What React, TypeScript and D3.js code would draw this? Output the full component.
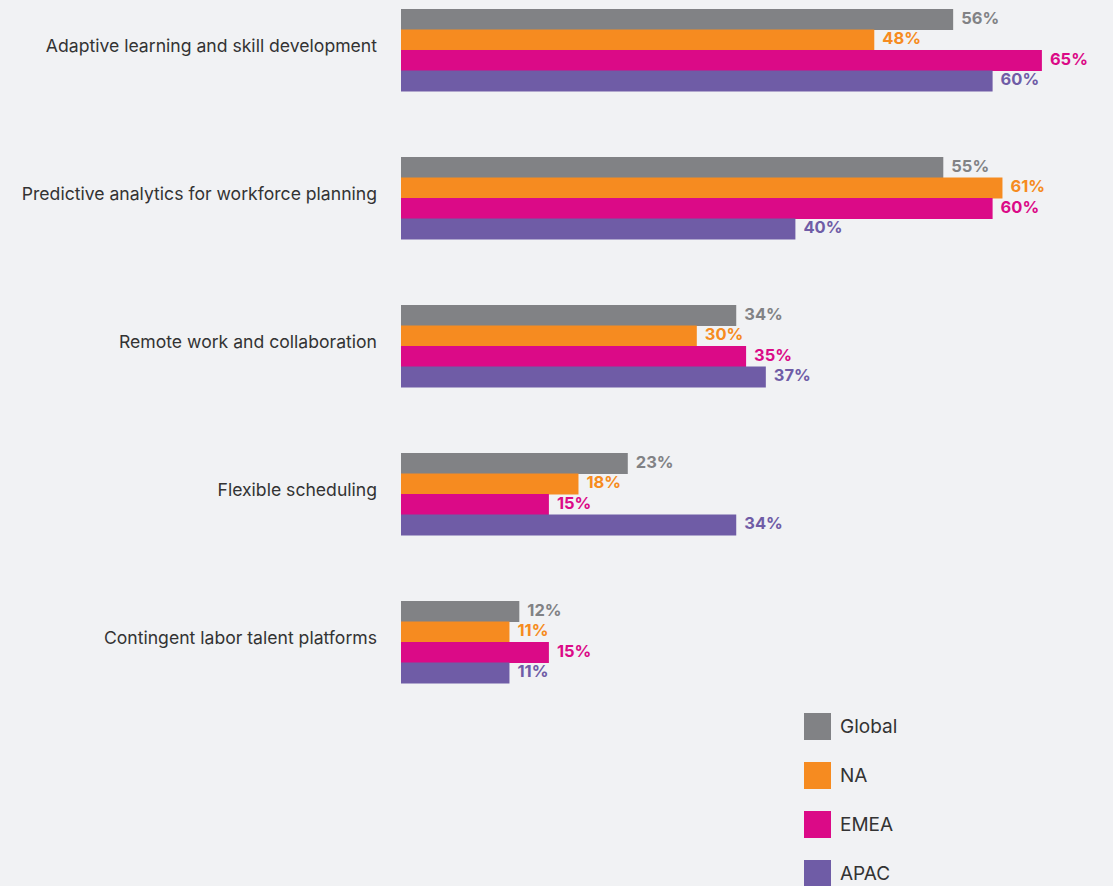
import React, { useRef, useEffect } from 'react';
import * as d3 from 'd3';

const categories = [
  'Adaptive learning and skill development',
  'Predictive analytics for workforce planning',
  'Remote work and collaboration',
  'Flexible scheduling',
  'Contingent labor talent platforms',
];
const seriesNames = ['Global', 'NA', 'EMEA', 'APAC'];
const globalValues = [56, 55, 34, 23, 12];
const naValues = [48, 61, 30, 18, 11];
const emeaValues = [65, 60, 35, 15, 15];
const apacValues = [60, 40, 37, 34, 11];
const colors = ['#818285', '#f68b20', '#db0a87', '#6f5ca6'];

const App = () => {
  const svgRef = useRef(null);

  useEffect(() => {
    const svgWidth = 1113;
    const svgHeight = 886;
    const font = 'Inter, "Open Sans", sans-serif';

    const svg = d3.select(svgRef.current)
      .attr('width', svgWidth)
      .attr('height', svgHeight);
    svg.selectAll('*').remove();

    svg.append('rect')
      .attr('width', svgWidth)
      .attr('height', svgHeight)
      .attr('fill', '#f1f2f4');

    const series = [globalValues, naValues, emeaValues, apacValues];

    const x = d3.scaleLinear().domain([0, 100]).range([401, 401 + 986]);
    // 5 groups, 148px apart, 82px tall each
    const y0 = d3.scaleBand().domain(categories).range([9, 683]).paddingInner(0.446).paddingOuter(0);
    const y1 = d3.scaleBand().domain(seriesNames).range([0, y0.bandwidth()]);

    const groups = svg.append('g')
      .selectAll('g')
      .data(categories)
      .enter()
      .append('g')
      .attr('transform', (d) => `translate(0,${y0(d)})`);

    groups.each(function (cat, ci) {
      const g = d3.select(this);
      seriesNames.forEach((s, si) => {
        const v = series[si][ci];
        g.append('rect')
          .attr('x', x(0))
          .attr('y', y1(s))
          .attr('width', x(v) - x(0))
          .attr('height', y1.bandwidth() + 0.5)
          .attr('fill', colors[si]);
        g.append('text')
          .attr('x', x(v) + 8)
          .attr('y', y1(s) + y1.bandwidth() / 2 - 1.5)
          .attr('dy', '0.35em')
          .attr('fill', colors[si])
          .attr('font-family', font)
          .attr('font-weight', 700)
          .attr('font-size', 16.5)
          .text(`${v}%`);
      });
      g.append('text')
        .attr('x', 377)
        .attr('y', y0.bandwidth() / 2 - 4)
        .attr('dy', '0.35em')
        .attr('text-anchor', 'end')
        .attr('fill', '#333333')
        .attr('font-family', font)
        .attr('font-size', 17.6)
        .text(cat);
    });

    const legendY = d3.scalePoint().domain(seriesNames).range([713, 860]);
    const legend = svg.append('g')
      .selectAll('g')
      .data(seriesNames)
      .enter()
      .append('g')
      .attr('transform', (d) => `translate(804,${legendY(d)})`);
    legend.append('rect')
      .attr('width', 27)
      .attr('height', 27)
      .attr('fill', (d, i) => colors[i]);
    legend.append('text')
      .attr('x', 36)
      .attr('y', 13.5)
      .attr('dy', '0.35em')
      .attr('fill', '#333333')
      .attr('font-family', font)
      .attr('font-size', 19)
      .text((d) => d);
  }, []);

  return (
    <div style={{ position: 'absolute', left: 0, top: 0 }}>
      <svg ref={svgRef} style={{ display: 'block' }} />
    </div>
  );
};

export default App;
